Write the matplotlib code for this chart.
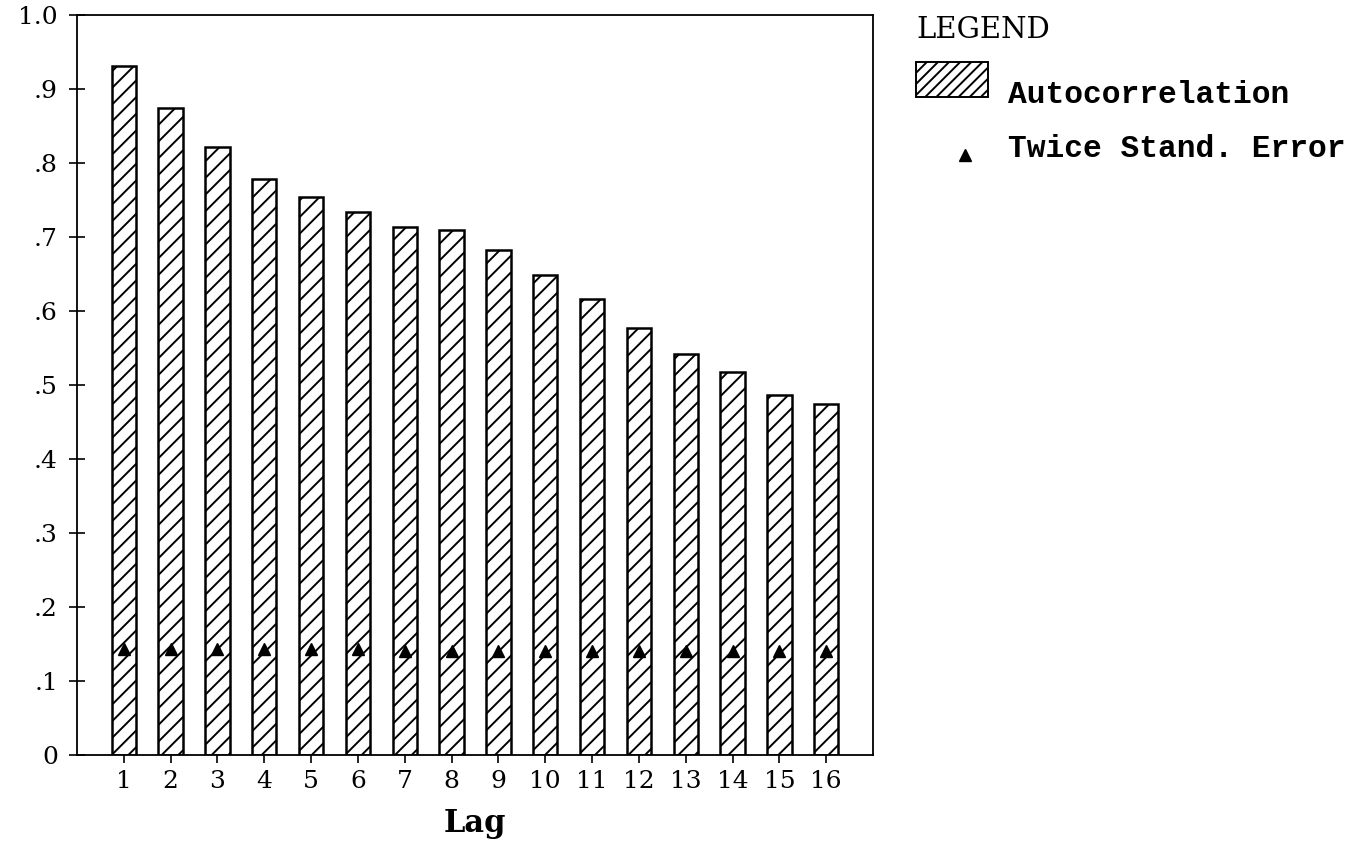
import matplotlib
matplotlib.use("Agg")
import matplotlib.pyplot as plt
from matplotlib.patches import Rectangle
from matplotlib.lines import Line2D

lags = list(range(1, 17))
autocorr = [0.931, 0.874, 0.822, 0.779, 0.754, 0.734, 0.713, 0.710,
            0.682, 0.649, 0.616, 0.577, 0.542, 0.517, 0.487, 0.475]
twice_se = [0.143, 0.143, 0.143, 0.143, 0.143, 0.143, 0.141, 0.141,
            0.141, 0.141, 0.141, 0.141, 0.140, 0.140, 0.140, 0.140]
ytick_vals = [0, .1, .2, .3, .4, .5, .6, .7, .8, .9, 1.0]
ytick_labels = ["0", ".1", ".2", ".3", ".4", ".5", ".6", ".7", ".8", ".9", "1.0"]

plt.rcParams['hatch.linewidth'] = 1.4
plt.rcParams['font.family'] = ['DejaVu Serif']

W, H = 1356, 842
fig = plt.figure(figsize=(W/100, H/100), dpi=100)
ax = fig.add_axes([77/W, 1-755/H, (873-77)/W, (755-15)/H])

ax.bar(lags, autocorr, width=0.52, facecolor='white', edgecolor='black',
       linewidth=1.8, hatch='//', zorder=2)
ax.plot(lags, twice_se, linestyle='none', marker='^', color='black',
        markersize=9, zorder=3)

ax.set_xlim(0, 17)
ax.set_ylim(0, 1.0)
ax.set_xticks(lags)
ax.set_xticklabels([str(l) for l in lags], fontsize=18)
ax.set_yticks(ytick_vals)
ax.set_yticklabels(ytick_labels, fontsize=18)
ax.tick_params(axis='both', direction='inout', length=11.5, width=1.2)
ax.tick_params(axis='x', pad=5)
ax.tick_params(axis='y', pad=8)
for s in ax.spines.values():
    s.set_linewidth(1.3)
ax.set_xlabel("Lag", fontsize=22, fontweight='bold', va='baseline', ha='center')
ax.xaxis.set_label_coords(0.5, -(832 - 755) / 740)

# Legend (drawn manually in figure pixel coordinates)
fig.text(916/W, 1-38/H, "LEGEND", fontsize=21, va='baseline', ha='left')
fig.patches.append(Rectangle((916/W, 1-97/H), 72/W, 35/H, transform=fig.transFigure,
                             facecolor='white', edgecolor='black', linewidth=1.4,
                             hatch='///'))
fig.text(1008/W, 1-103/H, "Autocorrelation", fontsize=22.5, fontweight='bold',
         family='Liberation Mono', va='baseline', ha='left')
fig.lines.append(Line2D([965/W], [1-155/H], transform=fig.transFigure,
                        marker='^', color='black', markersize=8, linestyle='none'))
fig.text(1008/W, 1-157/H, "Twice Stand. Error", fontsize=22.5, fontweight='bold',
         family='Liberation Mono', va='baseline', ha='left')

fig.savefig("out.png", dpi=100)
